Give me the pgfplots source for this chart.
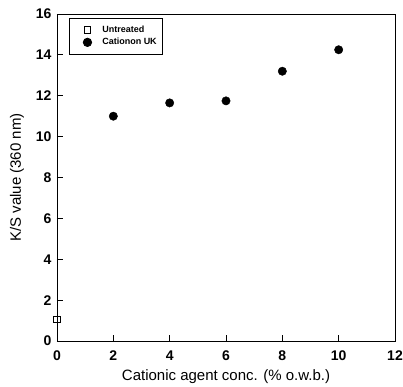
\documentclass[border=0pt]{standalone}
\usepackage{pgfplots}
\pgfplotsset{compat=1.18}
\usepackage{fontspec}
\setmainfont{Liberation Sans}

\pgfplotsset{
  wide marker key/.style={
    legend image code/.code={%
      \path[draw=none, fill=none] (0cm,0cm) -- (0.95cm,0cm);
      \draw[##1] plot coordinates {(0.5cm,0cm)};}},
}

\begin{document}
\begin{tikzpicture}
\begin{axis}[
  scale only axis,
  width=338pt, height=327pt,
  xmin=0, xmax=12, ymin=0, ymax=16,
  xtick={0,2,...,12}, ytick={0,2,...,16},
  tick align=inside,
  xtick pos=bottom, ytick pos=left,
  major tick length=6pt,
  axis line style={line width=0.9pt},
  every tick/.style={line width=0.9pt, black},
  tick label style={font=\bfseries\fontsize{14}{16}\selectfont},
  xticklabel style={yshift=-6pt},
  yticklabel style={xshift=-2pt},
  /pgf/number format/assume math mode=true,
  xlabel={Cationic agent conc. (\% o.w.b.)},
  ylabel={K/S value (360 nm)},
  label style={font=\fontsize{15}{17}\selectfont},
  xlabel style={yshift=-2pt},
  ylabel style={yshift=5pt},
  legend style={
    at={(rel axis cs:0.035,0.988)}, anchor=north west,
    font=\bfseries\fontsize{9}{10}\selectfont,
    draw=black, line width=0.8pt,
    inner xsep=4pt, inner ysep=6pt,
    row sep=0pt,
  },
  legend cell align=left,
  clip=false,
]
\addplot[only marks, wide marker key, mark=square, mark size=3.4pt,
         mark options={line width=1pt, fill=white}]
  coordinates {(0,1.05)};
\addlegendentry{Untreated}
\addplot[only marks, wide marker key, mark=*, mark size=4.2pt, black]
  coordinates {(2,11.0) (4,11.65) (6,11.75) (8,13.2) (10,14.25)};
\addlegendentry{Cationon UK}
\end{axis}
% fixed page margins around the axis box
\pgfresetboundingbox
\path (current axis.south west) ++(-57pt,-45pt);
\path (current axis.north east) ++(8pt,14pt);
\end{tikzpicture}
\end{document}
